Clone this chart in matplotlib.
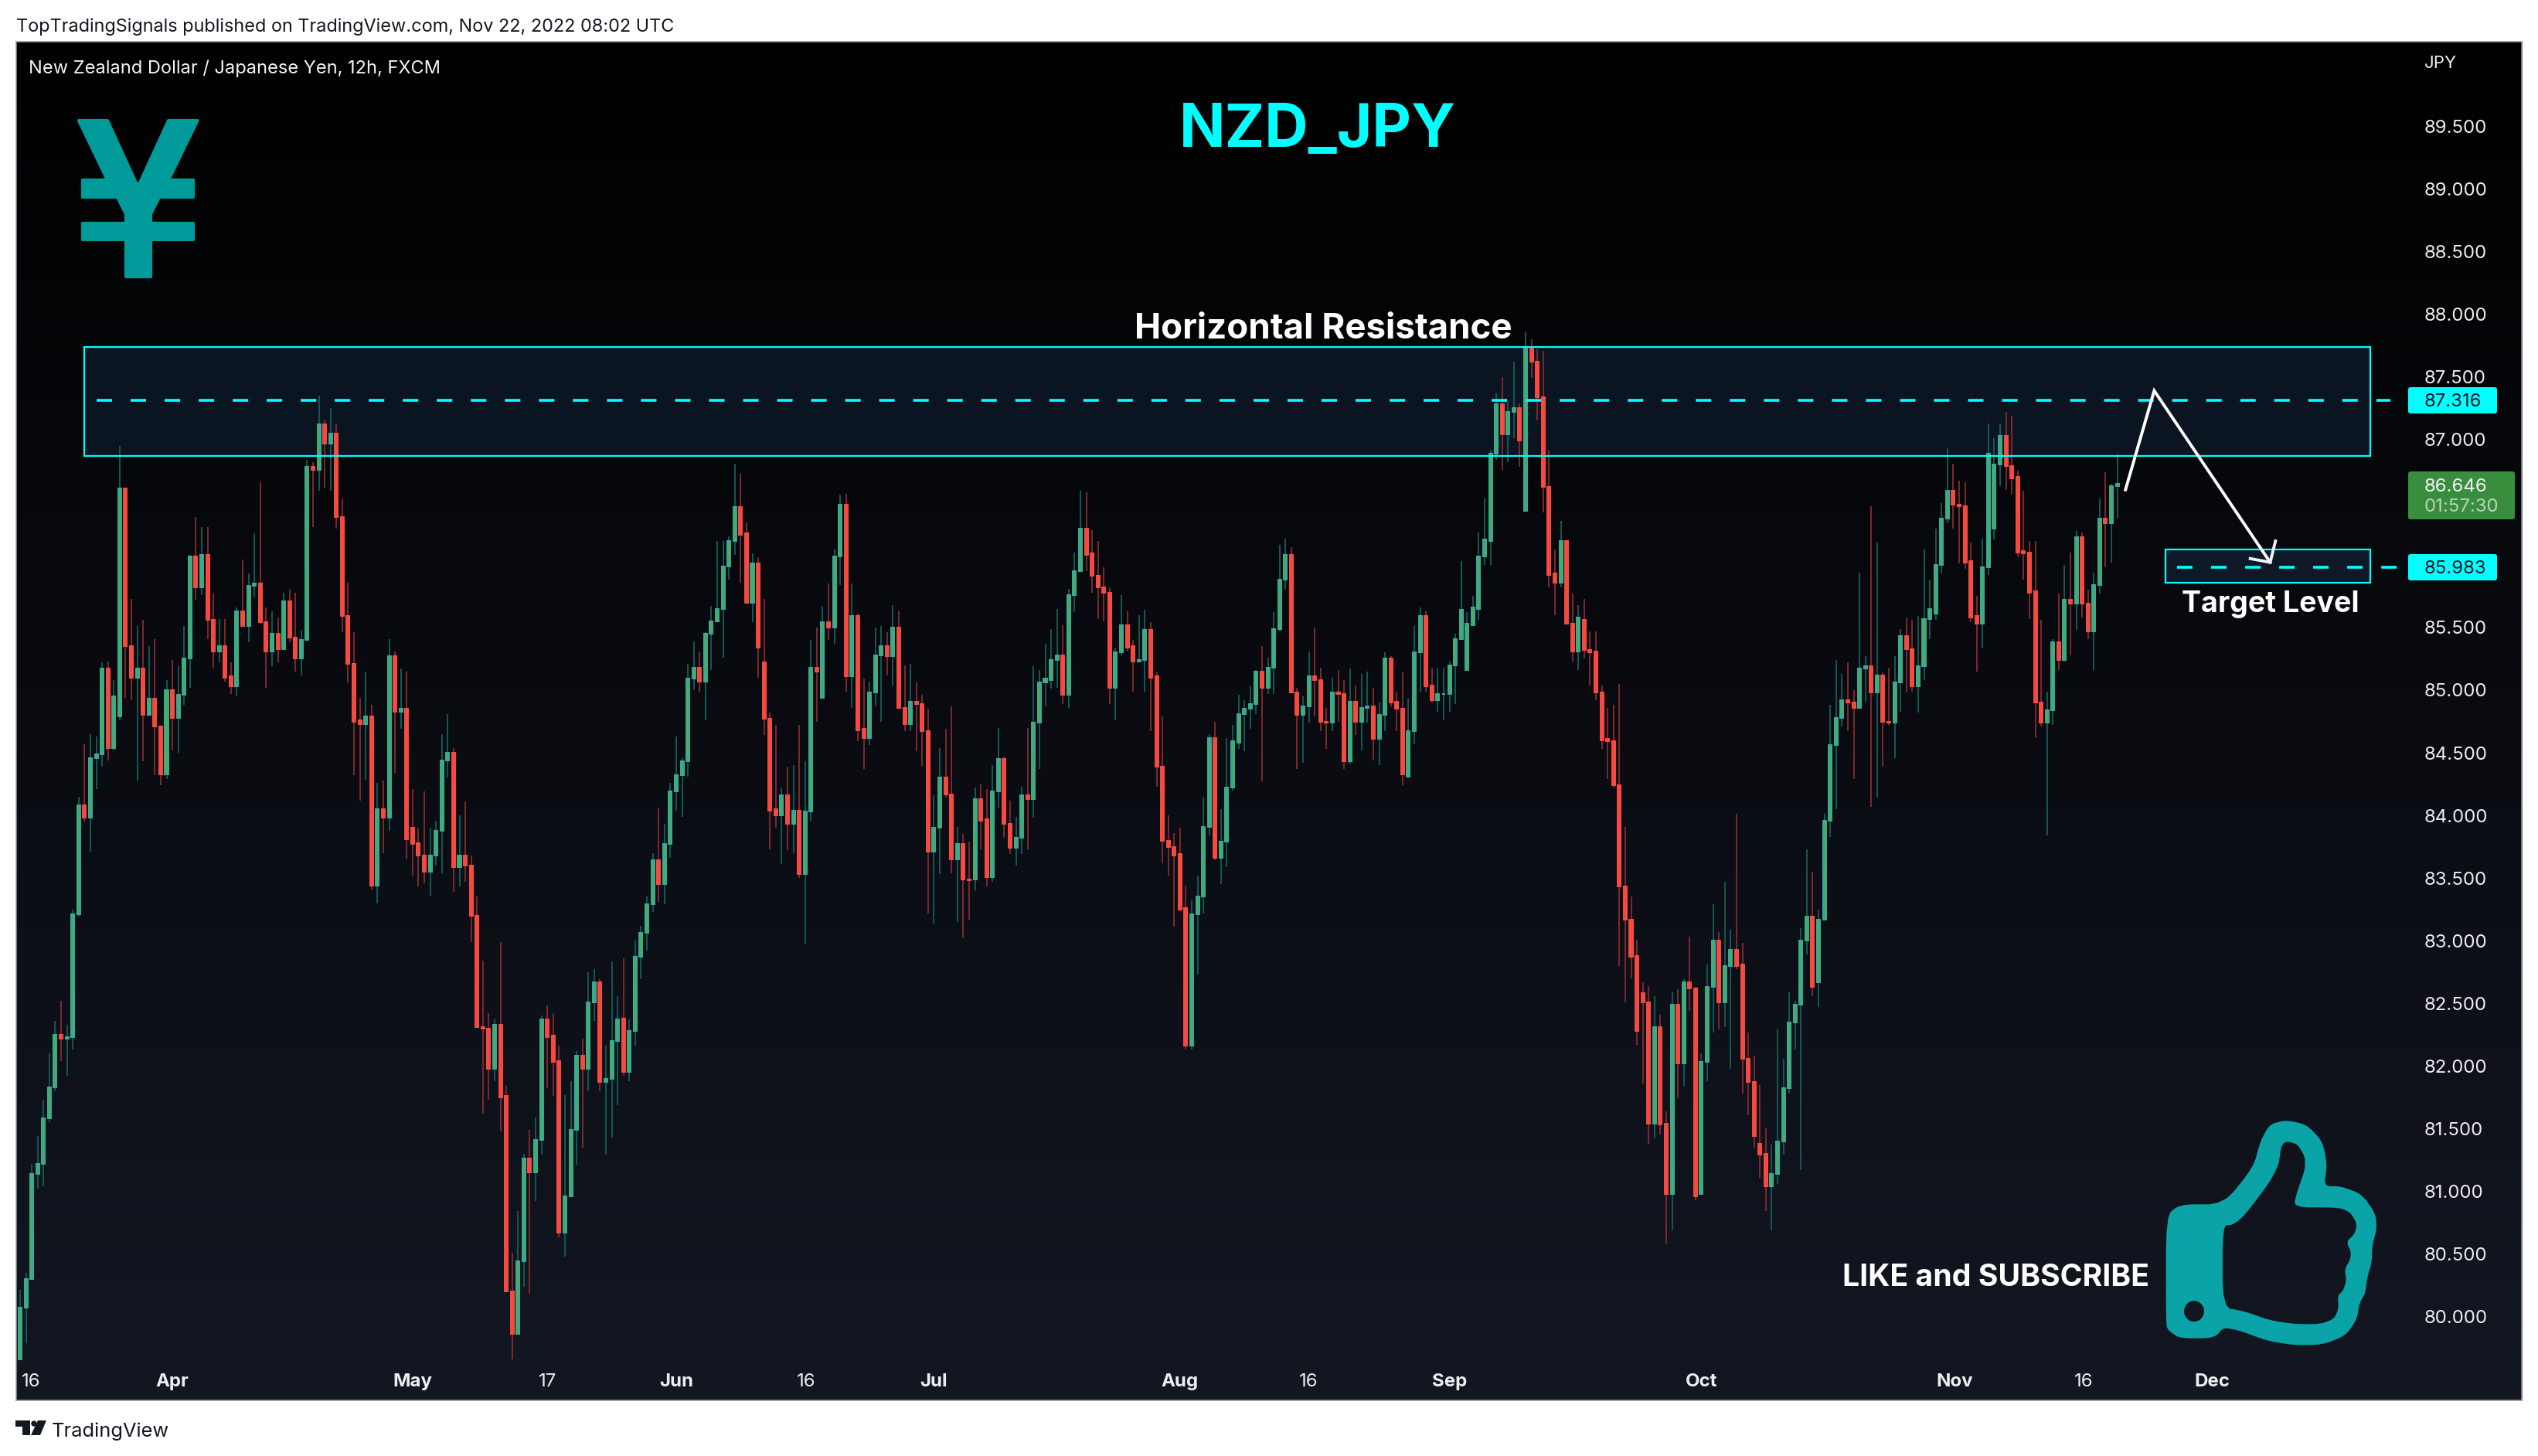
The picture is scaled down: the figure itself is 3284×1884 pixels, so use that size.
import numpy as np
import matplotlib
matplotlib.use("Agg")
import matplotlib.pyplot as plt
from matplotlib.path import Path
from matplotlib.patches import PathPatch, Rectangle, FancyBboxPatch
from matplotlib.transforms import Affine2D

opens = [
79.66,80.07,80.30,81.14,81.22,81.58,81.83,82.25,82.22,82.23,
83.21,84.08,83.98,84.46,84.49,85.17,84.54,84.79,86.61,85.35,
85.10,85.17,84.80,84.93,84.71,84.33,85.00,84.78,84.96,85.25,
86.07,85.82,86.08,85.56,85.31,85.35,85.11,85.03,85.63,85.51,
85.83,85.85,85.54,85.31,85.45,85.33,85.71,85.42,85.25,85.40,
86.78,86.76,87.12,86.97,87.05,86.38,85.59,85.21,84.76,84.73,
84.79,83.44,84.05,83.98,85.27,84.83,84.85,83.90,83.78,83.68,
83.55,83.68,83.88,84.44,84.50,83.59,83.68,83.60,83.20,82.31,
82.30,81.98,82.33,81.76,80.20,79.86,80.44,81.26,81.15,81.41,
82.37,82.24,82.04,80.67,80.96,81.49,82.08,81.98,82.51,82.67,
81.87,81.90,82.20,82.38,81.95,82.28,82.87,83.06,83.29,83.64,
83.45,83.77,84.19,84.32,84.43,85.09,85.18,85.07,85.45,85.55,
85.65,85.99,86.19,86.46,86.25,85.70,86.01,85.22,84.77,84.05,
84.00,84.16,83.93,84.04,83.53,84.03,85.18,84.94,85.54,85.50,
86.07,86.48,85.11,85.59,84.69,84.62,84.98,85.28,85.35,85.27,
85.50,84.86,84.73,84.91,84.89,84.67,83.71,83.90,84.30,84.17,
83.65,83.77,83.49,83.49,84.13,83.97,83.51,84.19,84.45,83.93,
83.74,83.82,84.16,84.13,84.74,85.06,85.08,85.24,85.28,84.96,
85.76,85.95,86.29,86.09,85.91,85.82,85.78,85.02,85.30,85.52,
85.35,85.23,85.24,85.48,85.11,84.39,83.80,83.75,83.69,83.26,
82.16,83.21,83.35,83.91,84.62,83.66,83.79,84.22,84.58,84.81,
84.85,84.89,85.15,85.02,85.18,85.49,85.88,86.08,84.98,84.80,
84.87,85.11,85.08,84.75,84.74,84.98,84.97,84.43,84.91,84.75,
84.86,84.87,84.61,84.80,85.25,84.91,84.85,84.31,84.67,85.30,
85.59,85.04,84.92,84.97,84.97,85.20,85.41,85.16,85.52,85.65,
86.07,86.19,86.89,87.28,87.04,87.22,87.25,86.43,87.74,87.62,
87.34,86.62,85.93,85.86,86.19,85.53,85.31,85.56,85.32,85.31,
84.98,84.61,84.59,84.24,83.43,83.17,82.88,82.58,82.51,81.54,
82.31,81.54,80.98,82.49,82.02,82.67,82.62,80.98,82.03,82.63,
83.00,82.51,82.80,82.93,82.81,82.06,81.87,81.38,81.30,81.04,
81.14,81.40,81.82,82.35,82.49,83.00,83.19,82.67,83.17,83.96,
84.56,84.78,84.92,84.90,84.86,85.17,85.19,84.98,85.12,84.75,
84.74,85.06,85.43,85.33,85.03,85.19,85.57,85.61,86.00,86.37,
86.59,86.48,86.47,86.03,85.59,85.53,85.98,86.29,86.80,87.03,
86.79,86.70,86.11,86.10,85.79,84.90,84.74,84.84,85.38,85.24,
85.72,85.69,86.22,85.69,85.47,85.84,86.37,86.33,86.63,
]
highs = [
80.21,80.35,81.22,81.44,81.73,82.10,82.36,82.52,82.33,83.25,
84.15,84.57,84.65,84.63,85.22,85.23,85.08,86.95,86.61,85.73,
85.51,85.56,85.35,85.41,84.71,85.08,85.24,85.19,85.51,86.08,
86.38,86.30,86.30,85.77,85.57,85.57,85.22,85.66,86.04,85.93,
86.25,86.66,85.66,85.63,85.58,85.78,85.80,85.78,85.48,86.84,
86.82,87.35,87.16,87.25,87.13,86.53,85.86,85.46,84.94,85.14,
84.88,84.26,84.28,85.41,85.31,85.17,85.15,84.21,83.90,84.19,
83.90,83.96,84.65,84.81,84.54,84.00,84.11,83.68,83.35,82.84,
82.42,82.37,82.99,81.84,80.51,80.84,81.30,81.49,81.59,82.40,
82.48,82.42,82.16,81.77,81.88,82.12,82.22,82.75,82.77,82.69,
82.16,82.83,82.56,82.86,82.37,83.00,83.12,83.35,83.70,84.06,
83.93,84.26,84.63,84.46,85.21,85.39,85.31,85.46,85.67,86.19,
86.19,86.23,86.81,86.73,86.34,86.09,86.06,85.73,84.82,84.72,
84.22,84.39,84.40,84.72,84.43,85.40,85.50,85.67,85.85,86.13,
86.56,86.57,85.85,85.61,85.09,85.07,85.50,85.51,85.46,85.68,
85.63,85.20,85.21,85.06,84.96,84.85,84.16,84.54,84.69,84.87,
83.91,83.85,83.79,84.22,84.25,84.21,84.40,84.70,84.47,84.12,
83.99,84.23,84.70,85.19,85.16,85.37,85.49,85.65,85.52,85.81,
86.10,86.59,86.58,86.28,86.19,85.98,85.82,85.34,85.76,85.63,
85.40,85.60,85.64,85.54,85.14,84.79,84.00,83.86,83.90,83.44,
83.33,83.52,84.15,84.65,84.75,84.05,84.62,84.72,84.96,84.92,
85.03,85.16,85.35,85.26,85.62,86.16,86.21,86.14,85.02,84.95,
85.31,85.50,85.18,84.86,85.10,85.16,85.08,85.17,85.04,85.13,
85.15,85.02,84.90,85.30,85.27,84.98,85.14,84.93,85.51,85.66,
85.63,85.18,85.17,85.18,85.23,85.45,86.03,85.62,85.75,86.26,
86.53,86.92,87.37,87.50,87.30,87.62,87.29,87.86,87.80,87.72,
87.71,86.91,86.12,86.35,86.19,85.77,85.68,85.73,85.47,85.47,
85.04,84.86,84.88,85.05,83.91,83.35,83.01,82.67,82.64,82.56,
82.41,81.64,82.59,82.61,82.69,83.03,82.63,82.10,82.81,83.29,
83.07,83.47,83.09,84.01,82.98,82.27,82.08,81.85,81.50,81.37,
82.29,82.06,82.59,82.52,83.10,83.73,83.55,83.25,84.01,84.88,
85.24,85.13,85.22,85.00,85.94,85.27,86.47,86.18,85.14,85.18,
85.27,85.49,85.58,85.56,85.59,86.13,85.88,86.29,86.49,86.93,
86.81,86.67,86.66,86.18,85.75,86.21,87.13,87.01,87.13,87.22,
87.19,86.75,86.59,86.19,86.19,85.56,84.99,85.41,85.77,86.00,
86.10,86.27,86.26,85.80,85.94,86.53,86.74,86.65,86.89,
]
lows = [
79.66,79.79,80.30,81.02,81.04,81.55,81.80,82.04,81.92,82.13,
83.19,83.95,83.71,84.21,84.39,84.44,84.52,84.76,84.94,84.92,
84.28,84.43,84.80,84.32,84.24,84.29,84.52,84.50,84.88,85.02,
85.72,85.76,85.41,85.18,85.22,85.07,84.97,84.95,85.51,85.38,
85.74,85.53,85.02,85.19,85.22,85.33,85.38,85.15,85.12,85.40,
86.30,86.59,86.61,86.59,86.29,85.46,85.06,84.32,84.12,84.28,
83.41,83.30,83.70,83.88,84.34,84.69,83.65,83.52,83.43,83.46,
83.36,83.60,83.54,84.30,83.39,83.43,83.47,82.99,82.31,81.62,
81.73,81.88,81.48,80.20,79.66,79.86,80.24,80.18,80.92,81.29,
81.82,81.76,80.63,80.48,80.96,81.21,81.35,81.80,82.36,81.80,
81.29,81.43,81.69,81.92,81.88,82.16,82.69,82.92,83.23,83.31,
83.29,83.66,84.04,83.99,84.31,85.00,84.98,84.76,85.16,85.54,
85.26,85.88,86.08,85.86,85.69,85.54,85.10,84.64,83.73,83.90,
83.61,83.72,83.70,83.50,82.97,83.96,84.75,84.94,85.40,85.37,
85.84,84.99,84.86,84.59,84.37,84.56,84.87,84.75,85.12,85.04,
84.86,84.67,84.67,84.51,84.39,83.22,83.14,83.53,84.14,83.54,
83.15,83.02,83.17,83.40,83.73,83.43,83.47,84.06,83.82,83.69,
83.60,83.69,83.73,83.98,84.37,84.87,85.01,85.02,84.89,84.86,
85.62,85.95,85.95,85.78,85.57,85.55,84.89,84.76,85.28,85.31,
84.99,85.23,84.99,84.67,84.23,83.62,83.52,83.11,83.25,82.13,
82.13,82.73,83.22,83.84,83.64,83.45,83.59,84.20,84.53,84.51,
84.69,84.81,84.27,84.97,84.97,85.47,85.80,84.98,84.37,84.42,
84.74,84.79,84.67,84.53,84.67,84.75,84.37,84.41,84.64,84.52,
84.74,84.44,84.40,84.67,84.87,84.67,84.24,84.31,84.57,84.98,
84.99,84.90,84.83,84.76,84.83,84.89,85.40,85.16,85.52,85.56,
86.00,86.00,86.84,86.76,86.82,87.01,86.78,86.42,87.49,87.15,
86.42,85.82,85.60,85.82,85.53,85.23,85.16,85.25,85.04,84.92,
84.53,84.29,84.22,82.80,82.51,82.70,82.17,81.86,81.38,81.42,
81.45,80.58,80.69,81.74,81.84,82.44,80.93,80.98,81.88,82.27,
82.29,82.31,81.98,82.77,81.78,81.61,81.35,81.11,80.84,80.69,
81.06,81.29,81.78,82.13,81.17,82.89,82.56,82.47,83.17,83.83,
84.05,84.71,84.67,84.29,84.85,84.91,84.07,84.14,84.39,84.72,
84.46,84.83,84.98,84.99,84.82,85.08,85.41,85.56,85.93,86.33,
86.29,86.01,85.97,85.54,85.15,85.34,85.92,86.20,86.63,86.60,
86.57,86.07,85.88,85.57,84.62,84.71,83.84,84.72,85.16,85.23,
85.28,85.48,85.58,85.41,85.16,85.77,85.98,86.02,86.37,
]
closes = [
80.07,80.30,81.14,81.22,81.58,81.83,82.25,82.22,82.23,83.21,
84.08,83.98,84.46,84.49,85.17,84.54,84.95,86.61,85.35,85.10,
85.17,84.80,84.93,84.71,84.33,85.00,84.78,84.96,85.25,86.07,
85.82,86.08,85.56,85.31,85.35,85.10,85.03,85.63,85.51,85.83,
85.85,85.54,85.31,85.45,85.33,85.71,85.42,85.25,85.40,86.78,
86.76,87.12,86.97,87.05,86.38,85.59,85.21,84.75,84.73,84.79,
83.44,84.05,83.98,85.27,84.83,84.85,83.81,83.77,83.68,83.55,
83.68,83.88,84.44,84.50,83.59,83.68,83.60,83.20,82.31,82.30,
81.98,82.33,81.75,80.20,79.86,80.44,81.26,81.15,81.41,82.37,
82.23,82.03,80.67,80.96,81.49,82.08,81.98,82.51,82.67,81.87,
81.90,82.20,82.37,81.95,82.28,82.87,83.06,83.29,83.64,83.45,
83.77,84.19,84.32,84.43,85.09,85.18,85.07,85.45,85.55,85.65,
85.99,86.19,86.46,86.24,85.70,86.01,85.34,84.77,84.04,84.00,
84.16,83.93,84.04,83.53,84.03,85.18,85.15,85.54,85.50,86.07,
86.48,85.11,85.59,84.68,84.62,84.98,85.28,85.35,85.27,85.50,
84.86,84.73,84.91,84.89,84.67,83.71,83.90,84.30,84.17,83.65,
83.77,83.49,83.48,84.13,83.96,83.51,84.19,84.45,83.93,83.74,
83.82,84.16,84.13,84.74,85.06,85.09,85.24,85.28,84.96,85.76,
85.95,86.29,86.08,85.91,85.82,85.78,85.02,85.30,85.52,85.34,
85.23,85.24,85.48,85.10,84.39,83.80,83.75,83.68,83.25,82.16,
83.21,83.35,83.91,84.62,83.66,83.79,84.22,84.59,84.81,84.85,
84.89,85.15,85.02,85.18,85.49,85.88,86.08,84.98,84.80,84.87,
85.11,85.08,84.75,84.74,84.98,84.97,84.43,84.91,84.75,84.86,
84.87,84.61,84.80,85.25,84.90,84.85,84.33,84.67,85.30,85.59,
85.03,84.92,84.97,84.97,85.20,85.41,85.64,85.53,85.66,86.07,
86.20,86.89,87.28,87.04,87.22,87.25,86.99,87.74,87.62,87.34,
86.62,85.92,85.86,86.19,85.53,85.31,85.58,85.32,85.30,84.98,
84.60,84.59,84.24,83.43,83.17,82.87,82.28,82.51,81.54,82.31,
81.53,80.98,82.49,82.02,82.67,82.62,80.96,82.03,82.63,83.00,
82.51,82.80,82.93,82.80,82.06,81.87,81.44,81.29,81.04,81.14,
81.40,81.82,82.35,82.49,83.00,83.19,82.63,83.17,83.96,84.56,
84.78,84.92,84.90,84.86,85.17,85.19,84.98,85.12,84.75,84.74,
85.06,85.43,85.33,85.03,85.19,85.57,85.65,86.00,86.37,86.59,
86.48,86.47,86.02,85.58,85.53,85.98,86.89,86.80,87.03,86.79,
86.69,86.10,86.09,85.78,84.90,84.74,84.84,85.38,85.24,85.72,
85.69,86.22,85.69,85.47,85.84,86.37,86.33,86.63,86.646,
]

price_ticks = [80.0,80.5,81.0,81.5,82.0,82.5,83.0,83.5,84.0,84.5,85.0,85.5,87.0,87.5,88.0,88.5,89.0,89.5]
time_tick_bars = [1.9,26.0,67.0,90.0,112.0,134.2,156.0,198.0,220.0,244.0,287.0,330.2,352.3,374.2]
time_tick_labels = ["16","Apr","May","17","Jun","16","Jul","Aug","16","Sep","Oct","Nov","16","Dec"]
month_labels = {"Apr","May","Jun","Jul","Aug","Sep","Oct","Nov","Dec"}
resistance_level = 87.316
target_level = 85.983
last_price = 86.646
zone_top, zone_bottom = 87.74, 86.87
target_top, target_bottom = 86.12, 85.86

plt.rcParams["lines.scale_dashes"] = False
W, H = 3284, 1884
fig = plt.figure(figsize=(W/100, H/100), dpi=100, facecolor="white")
L, R, T, B = 21, 3263, 54, 1812
ax = fig.add_axes([L/W, 1-B/H, (R-L)/W, (B-T)/H])
BAR0, BARW = 26.0, 7.58
ax.set_xlim((L-BAR0)/BARW, (R-BAR0)/BARW)
PY0, PK = 1703.5, 162.1
ax.set_ylim(80+(PY0-B)/PK, 80+(PY0-T)/PK)
ax.set_axisbelow(False)

# background gradient
g = np.linspace(0, 1, 256)[:, None, None]
top = np.array([0, 0, 0.0]); bot = np.array([0x13, 0x17, 0x22])/255
img = top*(1-g) + bot*g
ax.imshow(img, extent=(*ax.get_xlim(), *ax.get_ylim()), origin="upper", aspect="auto", zorder=0)
ax.set_xlim((L-BAR0)/BARW, (R-BAR0)/BARW)
ax.set_ylim(80+(PY0-B)/PK, 80+(PY0-T)/PK)

CYAN = "#00ffff"
for (x0, x1, hi, lo, fill) in [(10.95, 401.2, zone_top, zone_bottom, "#0b1421"), (366.2, 401.2, target_top, target_bottom, "#0e1826")]:
    ax.add_patch(Rectangle((x0, lo), x1-x0, hi-lo, facecolor=fill, edgecolor="none", zorder=1))
    ax.add_patch(Rectangle((x0, lo), x1-x0, hi-lo, facecolor="none", edgecolor=CYAN, lw=1.6, zorder=4))

o, h, l, c = map(np.array, (opens, highs, lows, closes))
x = np.arange(len(o))
up = c >= o
ax.vlines(x[up], l[up], h[up], color="#125a56", lw=1.4, zorder=2)
ax.vlines(x[~up], l[~up], h[~up], color="#7d2a2e", lw=1.4, zorder=2)
ax.bar(x[up], np.abs(c-o)[up], bottom=np.minimum(o, c)[up], width=0.53, color="#4caf50", edgecolor="#3aa79c", lw=1.45, zorder=3)
ax.bar(x[~up], np.abs(c-o)[~up], bottom=np.minimum(o, c)[~up], width=0.53, color="#f6493f", edgecolor="#f6493f", lw=1.45, zorder=3)

for level, x0, x1 in [(resistance_level, 13.06, 404.6), (target_level, 368.2, 405.7)]:
    ax.plot([x0, x1], [level, level], color=CYAN, lw=2.6, dashes=(14.4, 17.3), dash_capstyle="butt", zorder=5)

# forecast arrow
ax.plot([359.4, 364.3, 384.1], [86.60, 87.39, 86.02], color="white", lw=2.8, solid_joinstyle="miter", zorder=6)
ax.plot([380.7, 384.1, 385.0], [86.05, 86.02, 86.19], color="#eef1fa", lw=2.8, solid_joinstyle="miter", zorder=6)

ax.spines[:].set_color("#9598a1"); ax.spines[:].set_linewidth(1.1)
ax.yaxis.tick_right()
ax.set_yticks(price_ticks, [f"{v:.3f}" for v in price_ticks])
ax.tick_params(axis="y", length=0, pad=-91, labelsize=17.3, labelfontfamily="Inter")
ax.set_xticks(time_tick_bars, time_tick_labels)
ax.tick_params(axis="x", length=0, pad=-25, labelsize=17.3, labelfontfamily="Inter")
for t in ax.get_xticklabels():
    if t.get_text() in month_labels:
        t.set_fontweight("bold")
for t in ax.get_yticklabels() + ax.get_xticklabels():
    t.set_color("#eeeeee")

def tx(px, py, s, size, color="white", ha="left", weight="normal", family="Inter", **kw):
    fig.text(px/W, 1-(py+2.5)/H, s, fontsize=size, color=color, ha=ha, va="center", fontweight=weight, family=family, zorder=20, **kw)

pix = Affine2D().scale(1, -1).translate(0, H)
def box(x0, y0, x1, y1, color):
    fig.add_artist(FancyBboxPatch((x0+3, y0+3), x1-x0-6, y1-y0-6, boxstyle="round,pad=3,rounding_size=3",
                                  facecolor=color, edgecolor="none", transform=pix, zorder=10))
box(3116, 501, 3231, 535, CYAN)
box(3116, 717, 3231, 751, CYAN)
box(3116, 610, 3254, 672, "#388e3c")
tx(3136.5, 518, f"{resistance_level:.3f}", 17.3, "#131722")
tx(3136.5, 734, f"{target_level:.3f}", 17.3, "#131722")
tx(3136.5, 627, f"{last_price:.3f}", 17.3, "#f4f4f4")
tx(3136.5, 654, "01:57:30", 17.3, "#b9d3ba")
tx(3137, 80, "JPY", 16, "#eeeeee")

tx(21, 32, "TopTradingSignals published on TradingView.com, Nov 22, 2022 08:02 UTC", 16.9, "#131722")
tx(37, 86, "New Zealand Dollar / Japanese Yen, 12h, FXCM", 17.0, "#f4f4f4")
tx(1705, 167, "NZD_JPY", 56.2, CYAN, ha="center", weight="bold")
tx(1712, 423, "Horizontal Resistance", 32.9, "white", ha="center", weight="bold")
tx(2938, 779, "Target Level", 27.0, "white", ha="center", weight="bold")
tx(2582, 1651, "LIKE and SUBSCRIBE", 28.2, "white", ha="center", weight="bold")
tx(67, 1850, "TradingView", 18.3, "#131722")

def add_poly(pts, color, lw=0, zo=12):
    verts = np.vstack([pts, pts[0]])
    codes = [Path.MOVETO] + [Path.LINETO]*(len(pts)-1) + [Path.CLOSEPOLY]
    fig.add_artist(PathPatch(Path(verts, codes), facecolor=color, edgecolor=color if lw else "none", lw=lw,
                             joinstyle="round", transform=pix, zorder=zo))

# yen icon
YEN = "#009a9a"
add_poly([(102,156),(139,156),(178.5,242),(218,156),(255.5,156),(218,233),(250,233),(250,255),(206,255),(195,277),
          (195,358),(163,358),(163,277),(152,255),(107,255),(107,233),(139,233)], YEN, lw=3)
add_poly([(107,289),(250,289),(250,310),(107,310)], YEN, lw=3)

# thumb icon
THUMB = "#0aa4a8"
def zx(p):
    return [(2350+a/1.679, 1420+b/3) for a, b in p]
def chaikin(p, n=2):
    p = np.array(p, float)
    for _ in range(n):
        q = np.roll(p, -1, axis=0)
        p = np.column_stack([0.8*p+0.2*q, 0.2*p+0.8*q]).reshape(-1, 2)
    return p
outer = chaikin(zx([(760,880),(760,460),(790,415),(885,415),(950,270),(965,170),(985,105),(1020,88),(1065,105),(1100,170),
    (1110,260),(1103,345),(1140,345),(1185,375),(1215,450),(1218,510),(1208,575),(1207,640),(1197,700),(1193,760),
    (1180,800),(1175,860),(1150,925),(1100,960),(1040,962),(980,945),(920,905),(885,893),(870,925),(850,935),(790,935),(765,905)]))
inner = chaikin(zx([(883,497),(905,495),(930,460),(985,330),(1005,260),(1010,190),(1020,170),(1045,180),(1062,230),(1062,280),
    (1045,365),(1037,427),(1135,427),(1160,445),(1175,490),(1170,530),(1152,560),(1162,600),(1160,630),(1148,668),
    (1152,710),(1145,750),(1133,770),(1135,820),(1125,860),(1095,880),(1040,880),(985,865),(930,830),(883,815)]))[::-1]
th = np.linspace(0, 2*np.pi, 40, endpoint=False)
hole = np.column_stack([2350+821/1.679+13*np.cos(th), 1420+830/3+13.5*np.sin(th)])[::-1]
verts, codes = [], []
for ring in (outer, inner, hole):
    verts += list(ring) + [ring[0]]
    codes += [Path.MOVETO] + [Path.LINETO]*(len(ring)-1) + [Path.CLOSEPOLY]
fig.add_artist(PathPatch(Path(np.array(verts), codes), facecolor=THUMB, edgecolor="none", transform=pix, zorder=12))

# TradingView logo
DK = "#131722"
add_poly([(20,1838),(39,1838),(39,1857),(29,1857),(29,1846),(20,1846)], DK)
add_poly([(49,1838),(60,1838),(52,1857),(40,1857)], DK)
th2 = np.column_stack([44+3.7*np.cos(th), 1842+3.7*np.sin(th)])
add_poly(list(th2), DK)

fig.savefig("out.png", dpi=100, facecolor="white")
